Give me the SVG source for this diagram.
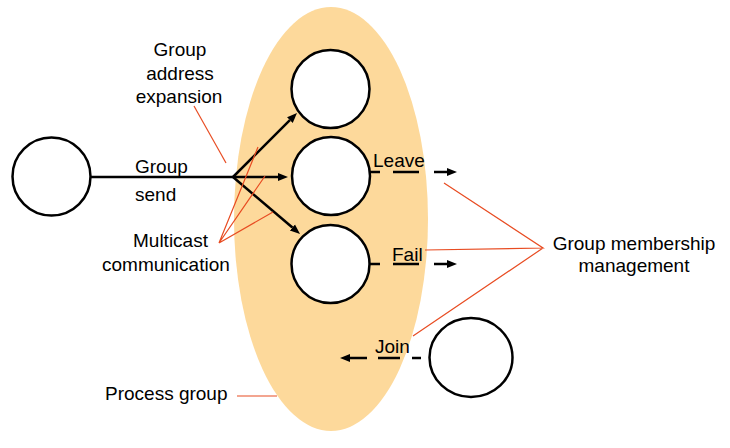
<svg xmlns="http://www.w3.org/2000/svg" width="730" height="448" viewBox="0 0 730 448">
<style>
  text { font-family: "Liberation Sans", Arial, sans-serif; font-size: 19px; fill: #000; }
  .proc { fill: #fff; stroke: #000; stroke-width: 2.5; }
  .edge { fill: none; stroke: #000; stroke-width: 2.5; }
  .dash { fill: none; stroke: #000; stroke-width: 2.5; }
  .note { fill: none; stroke: #e84c22; stroke-width: 1.2; }
</style>
<defs>
  <marker id="arrow" markerUnits="userSpaceOnUse" markerWidth="11" markerHeight="10" refX="0" refY="5" orient="auto">
    <path d="M0,1 L10,5 L0,9 z" fill="#000"/>
  </marker>
</defs>
<rect width="730" height="448" fill="#fff"/>

<g id="process-group">
  <ellipse cx="331" cy="219" rx="97" ry="212" fill="#fdd99b"/>
</g>

<g id="connectors">
  <path class="edge" d="M91,177 H233"/>
  <path class="edge" d="M233,177 L289.9,120.1" marker-end="url(#arrow)"/>
  <path class="edge" d="M233,177 H278" marker-end="url(#arrow)"/>
  <path class="edge" d="M233,177 L292.4,227.5" marker-end="url(#arrow)"/>
  <path class="dash" d="M370,172 H447" stroke-dasharray="10 13 26 15 30" marker-end="url(#arrow)"/>
  <path class="dash" d="M370,264 H447" stroke-dasharray="10 13 26 15 30" marker-end="url(#arrow)"/>
  <path class="dash" d="M421,358 H350" stroke-dasharray="9 12 22 11 30" marker-end="url(#arrow)"/>
</g>

<g id="annotations">
  <path class="note" d="M194,106 L226,163"/>
  <path class="note" d="M258,147 L219,243 L265,176 M219,243 L273,212"/>
  <path class="note" d="M444,183 L543,248 L425,250 M543,248 L413,336"/>
  <path class="note" d="M237,396 H277"/>
</g>

<g id="sender">
  <circle class="proc" cx="51.5" cy="176.5" r="39"/>
</g>
<g id="member-1">
  <circle class="proc" cx="330.5" cy="89" r="39"/>
</g>
<g id="member-2">
  <circle class="proc" cx="331" cy="176" r="39"/>
</g>
<g id="member-3">
  <circle class="proc" cx="330.5" cy="264" r="39"/>
</g>
<g id="joiner">
  <ellipse class="proc" cx="471" cy="357.5" rx="41.5" ry="39.5"/>
</g>

<g id="labels">
  <text x="180" y="56" text-anchor="middle">Group</text>
  <text x="180" y="79.5" text-anchor="middle">address</text>
  <text x="179" y="103" text-anchor="middle">expansion</text>
  <text x="135" y="173">Group</text>
  <text x="135" y="201">send</text>
  <text x="133" y="247">Multicast</text>
  <text x="102" y="271">communication</text>
  <text x="373" y="167">Leave</text>
  <text x="392" y="261">Fail</text>
  <text x="375" y="353">Join</text>
  <text x="105" y="400">Process group</text>
  <text x="634" y="250" text-anchor="middle">Group membership</text>
  <text x="634" y="272" text-anchor="middle">management</text>
</g>
</svg>
